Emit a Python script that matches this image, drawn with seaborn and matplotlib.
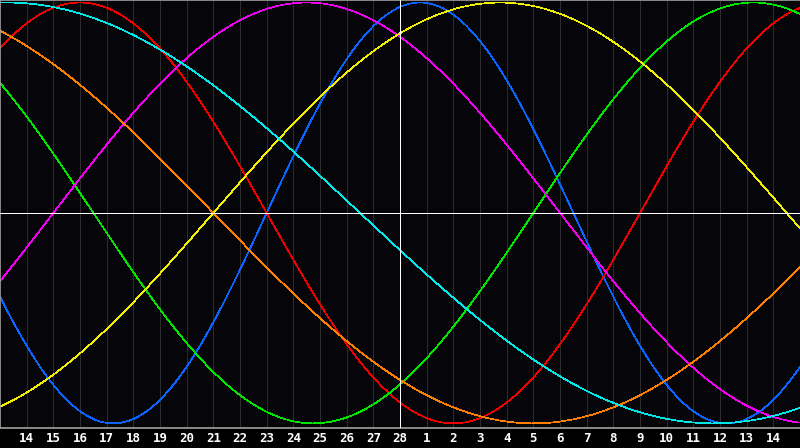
import numpy as np
import pandas as pd
import seaborn as sns
import matplotlib.pyplot as plt

# biorhythm cycles: period in days and the chart day where each one crosses zero going up
cycle_names = ["physical", "emotional", "intellectual", "intuitive", "aesthetic", "awareness", "spiritual"]
cycle_periods = [23, 28, 33, 38, 43, 48, 53]
cycle_rise_day = [10.0, 24.0, 20.0, 2.0, 8.0, -16.0, -13.0]
cycle_colors = ["#0a64ff", "#f00000", "#00e600", "#f000f0", "#f0f000", "#ff8000", "#00e8e8"]

day_labels = ["14", "15", "16", "17", "18", "19", "20", "21", "22", "23", "24", "25", "26", "27", "28",
              "1", "2", "3", "4", "5", "6", "7", "8", "9", "10", "11", "12", "13", "14"]
today_pos = 15
n_days = 30

rows = []
t = np.linspace(0, n_days, 901)
for name, per, rise in zip(cycle_names, cycle_periods, cycle_rise_day):
    v = np.sin(2 * np.pi * (t - rise) / per)
    rows.append(pd.DataFrame({"day": t, "value": v, "cycle": name}))
df = pd.concat(rows, ignore_index=True)

fig = plt.figure(figsize=(8, 4.48), dpi=100, facecolor="black")
ax = fig.add_axes([0.0, 20 / 448, 1.0, 428 / 448])
ax.set_facecolor("#060509")

# day grid
for i in range(1, n_days):
    ax.axvline(i, color="#2c2c2c", lw=0.6, zorder=0)

sns.lineplot(data=df, x="day", y="value", hue="cycle", hue_order=cycle_names,
             palette=cycle_colors, legend=False, lw=0.5, ax=ax, sort=False,
             estimator=None)

ax.axhline(0, color="white", lw=0.6, zorder=3)
ax.axvline(today_pos, color="white", lw=0.6, zorder=3)
for ln in ax.lines:
    ln.set_antialiased(False)

ax.set_xlim(0, n_days)
ax.set_ylim(-1.022, 1.012)
ax.set_xticks(range(1, n_days))
ax.set_xticklabels(day_labels, color="white", fontweight="bold",
                   fontsize=9, family="DejaVu Sans Mono")
ax.tick_params(axis="x", length=0, pad=3)
ax.set_yticks([])
ax.set_xlabel("")
ax.set_ylabel("")
for side in ["left", "top", "bottom"]:
    ax.spines[side].set_color("#a0a0a0")
    ax.spines[side].set_linewidth(1.2)
ax.spines["right"].set_visible(False)

fig.savefig("out.png", dpi=100, facecolor="black")
